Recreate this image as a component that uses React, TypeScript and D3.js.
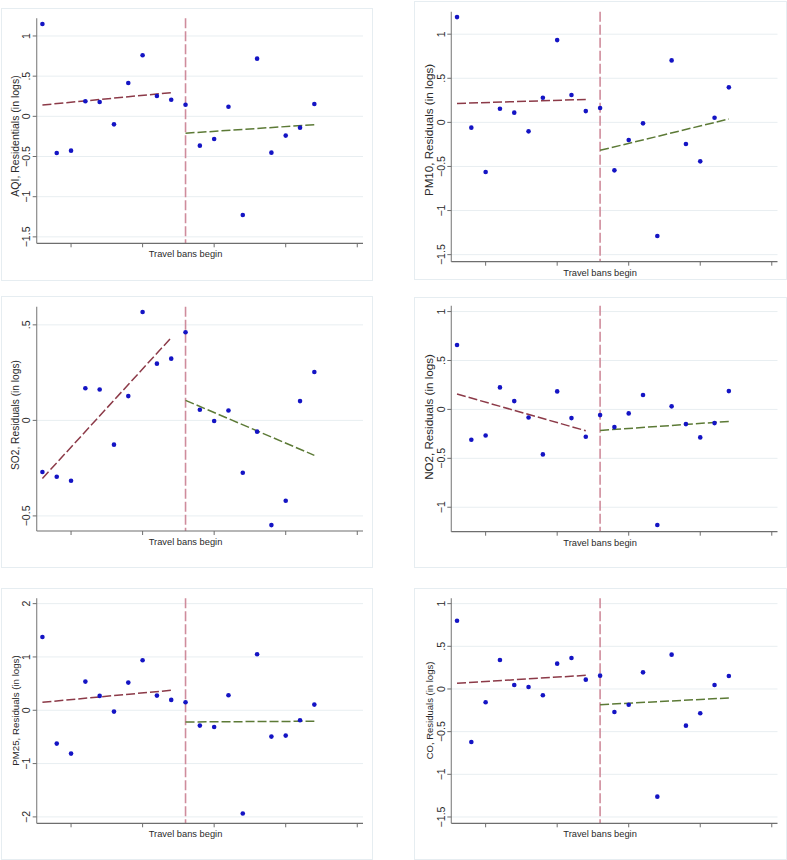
import React from "react";
import * as d3 from "d3";

const xIndex = d3.range(20);
const xTicks = [2, 7, 12, 17, 22];
const breakX = 10;
const xLabel = "Travel bans begin";

const names = ["AQI, Residentials (in logs)", "PM10, Residuals (in logs)", "SO2, Residuals (in logs)", "NO2, Residuals (in logs)", "PM25, Residuals (in logs)", "CO, Residuals (in logs)"];

const aqi = [1.15, -0.456, -0.427, 0.187, 0.178, -0.1, 0.415, 0.76, 0.253, 0.207, 0.145, -0.365, -0.282, 0.12, -1.228, 0.718, -0.452, -0.24, -0.141, 0.154];
const pm10 = [1.194, -0.06, -0.563, 0.155, 0.11, -0.102, 0.28, 0.933, 0.31, 0.128, 0.163, -0.544, -0.2, -0.011, -1.289, 0.703, -0.246, -0.442, 0.053, 0.397];
const so2 = [-0.27, -0.295, -0.316, 0.168, 0.162, -0.127, 0.127, 0.567, 0.297, 0.323, 0.461, 0.056, -0.003, 0.052, -0.274, -0.059, -0.548, -0.421, 0.101, 0.253];
const no2 = [0.658, -0.31, -0.266, 0.225, 0.085, -0.082, -0.46, 0.184, -0.089, -0.279, -0.058, -0.181, -0.041, 0.147, -1.182, 0.031, -0.15, -0.286, -0.14, 0.187];
const pm25 = [1.375, -0.625, -0.8125, 0.5375, 0.269, -0.025, 0.519, 0.9375, 0.275, 0.194, 0.15, -0.2875, -0.3125, 0.281, -1.9375, 1.05, -0.494, -0.475, -0.1875, 0.106];
const co = [0.8, -0.621, -0.156, 0.34, 0.047, 0.023, -0.074, 0.297, 0.363, 0.109, 0.156, -0.27, -0.184, 0.195, -1.262, 0.402, -0.43, -0.285, 0.047, 0.152];

// fitted line endpoints [value at x=0, value at x=9] and [value at x=10, value at x=19]
const preFit = [[0.141, 0.295], [0.215, 0.26], [-0.304, 0.433], [0.157, -0.218], [0.15, 0.375], [0.066, 0.16]];
const postFit = [[-0.21, -0.104], [-0.317, 0.038], [0.105, -0.183], [-0.215, -0.123], [-0.219, -0.206], [-0.184, -0.105]];

const yTicks = [
  [-1.5, -1, -0.5, 0, 0.5, 1],
  [-1.5, -1, -0.5, 0, 0.5, 1],
  [-0.5, 0, 0.5],
  [-1, -0.5, 0, 0.5, 1],
  [-2, -1, 0, 1, 2],
  [-1.5, -1, -0.5, 0, 0.5, 1],
];
const yDomains = [[-1.58, 1.22], [-1.58, 1.255], [-0.579, 0.595], [-1.25, 1.06], [-2.12, 2.1], [-1.574, 1.0625]];
const series = [aqi, pm10, so2, no2, pm25, co];

// layout per panel: box and plot area
const layout = [
  { bx: 1, by: 8, bw: 371, bh: 272, x0: 36.7, x1: 363, y0: 18.3, y1: 243.3, tfs: 10.5, tcy: 136 },
  { bx: 414, by: 1, bw: 372, bh: 278, x0: 451.3, x1: 777.5, y0: 11.7, y1: 261.7, tfs: 11.6, tcy: 130 },
  { bx: 1, by: 296, bw: 371, bh: 271, x0: 36.7, x1: 363, y0: 306.7, y1: 531, tfs: 10.2, tcy: 415 },
  { bx: 414, by: 297, bw: 372, bh: 270, x0: 451.3, x1: 777.5, y0: 305.7, y1: 531.7, tfs: 11.6, tcy: 417 },
  { bx: 1, by: 588, bw: 371, bh: 271, x0: 36.7, x1: 363, y0: 598.3, y1: 823.3, tfs: 9.7, tcy: 710.5 },
  { bx: 414, by: 588, bw: 372, bh: 271, x0: 451.3, x1: 777.5, y0: 598.3, y1: 823.3, tfs: 9.5, tcy: 710.5 },
];

const fmt = (v: number) => {
  const s = d3.format("")(v);
  return s.replace(/^0\./, ".").replace(/^-0\./, "-.");
};

const FONT = "'Liberation Sans', Arial, sans-serif";

function Panel({ i }: { i: number }) {
  const L = layout[i];
  const x = d3.scaleLinear().domain([-0.4, 22.4]).range([L.x0, L.x1]);
  const y = d3.scaleLinear().domain(yDomains[i]).range([L.y1, L.y0]);
  const vals = series[i];
  const line = d3.line<[number, number]>().x((d) => x(d[0])).y((d) => y(d[1]));
  const pre: [number, number][] = [[0, preFit[i][0]], [9, preFit[i][1]]];
  const post: [number, number][] = [[10, postFit[i][0]], [19, postFit[i][1]]];
  return (
    <g>
      <rect x={L.bx + 0.5} y={L.by + 0.5} width={L.bw} height={L.bh} fill="#fff" stroke="#e6edf1" strokeWidth={1} />
      {yTicks[i].map((t) => (
        <line key={"g" + t} x1={L.x0} x2={L.x1} y1={y(t)} y2={y(t)} stroke="#e8eef1" strokeWidth={1} />
      ))}
      <line x1={x(breakX)} x2={x(breakX)} y1={L.y0} y2={L.y1} stroke="#cf8c9c" strokeWidth={1.6} strokeDasharray="10,3" />
      <path d={line(pre) || ""} fill="none" stroke="#8c3a48" strokeWidth={1.5} strokeDasharray="9,3" />
      <path d={line(post) || ""} fill="none" stroke="#5c7a36" strokeWidth={1.5} strokeDasharray="9,3" />
      {xIndex.map((k) => (
        <circle key={k} cx={x(k)} cy={y(vals[k])} r={2.3} fill="#1414c4" />
      ))}
      <line x1={L.x0} x2={L.x0} y1={L.y0} y2={L.y1} stroke="#8a8a8a" strokeWidth={1.2} />
      <line x1={L.x0} x2={L.x1} y1={L.y1} y2={L.y1} stroke="#6e6e6e" strokeWidth={1.2} />
      {xTicks.map((t) => (
        <line key={"xt" + t} x1={x(t)} x2={x(t)} y1={L.y1} y2={L.y1 + 4} stroke="#6e6e6e" strokeWidth={1} />
      ))}
      {yTicks[i].map((t) => (
        <g key={"yt" + t}>
          <line x1={L.x0 - 4} x2={L.x0} y1={y(t)} y2={y(t)} stroke="#6e6e6e" strokeWidth={1} />
          <text transform={`translate(${L.x0 - 6.3},${y(t)}) rotate(-90)`} textAnchor="middle" fontSize={10.6} fontFamily={FONT} fill="#2a2a2a">
            {fmt(t)}
          </text>
        </g>
      ))}
      <text transform={`translate(${L.x0 - 18},${L.tcy}) rotate(-90)`} textAnchor="middle" fontSize={L.tfs} fontFamily={FONT} fill="#2a2a2a">
        {names[i]}
      </text>
      <text x={x(breakX)} y={L.y1 + 14} textAnchor="middle" fontSize={9.3} fontFamily={FONT} fill="#2a2a2a">
        {xLabel}
      </text>
    </g>
  );
}

export default function App() {
  return (
    <svg width={787} height={860} style={{ position: "absolute", left: 0, top: 0, background: "#fff" }}>
      <rect x={0} y={0} width={787} height={860} fill="#fff" />
      {layout.map((_, i) => (
        <Panel key={i} i={i} />
      ))}
    </svg>
  );
}
